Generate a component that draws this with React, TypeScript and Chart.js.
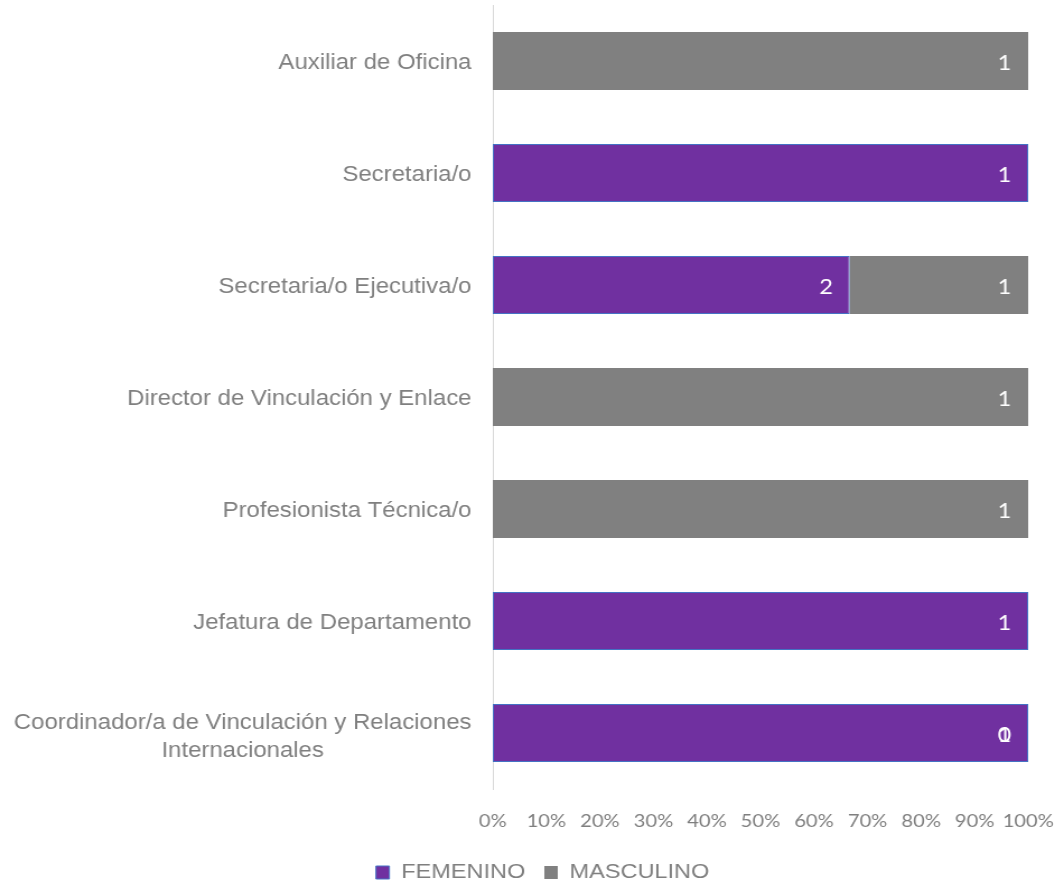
import React, { useEffect, useRef } from "react";
import { Chart, registerables } from "chart.js";

Chart.register(...registerables);

// ---- data ----
const categories: (string | string[])[] = [
  "Auxiliar de Oficina",
  "Secretaria/o",
  "Secretaria/o Ejecutiva/o",
  "Director de Vinculación y Enlace",
  "Profesionista Técnica/o",
  "Jefatura de Departamento",
  ["Coordinador/a de Vinculación y Relaciones", "Internacionales"],
];
const femenino: (number | null)[] = [null, 1, 2, null, null, 1, 1];
const masculino: (number | null)[] = [1, null, 1, 1, 1, null, 0];
const seriesNames = ["FEMENINO", "MASCULINO"];
const xTickValues = [0, 10, 20, 30, 40, 50, 60, 70, 80, 90, 100];

// ---- styling ----
const PURPLE = "#7030A0";
const BLUE = "#4472C4";
const GRAY = "#808080";
const TEXT = "#7f7f7f";
const SX = 1.12;
const W = 943;
const H = 893;

function share(a: number | null, b: number | null): number | null {
  if (a == null) return null;
  const total = (a ?? 0) + (b ?? 0);
  return total ? (a / total) * 100 : 0;
}

const femPct = femenino.map((v, i) => share(v, masculino[i]));
const mascPct = masculino.map((v, i) => share(v, femenino[i]));

const labelsPlugin = {
  id: "customLabels",
  afterDatasetsDraw(chart: any) {
    const ctx = chart.ctx as CanvasRenderingContext2D;
    ctx.save();
    // value labels inside end
    ctx.font = "21px Lato";
    ctx.fillStyle = "#ffffff";
    ctx.textAlign = "right";
    ctx.textBaseline = "middle";
    const counts = [femenino, masculino];
    chart.data.datasets.forEach((_ds: any, di: number) => {
      const meta = chart.getDatasetMeta(di);
      meta.data.forEach((el: any, i: number) => {
        const c = counts[di][i];
        if (c == null) return;
        ctx.fillText(String(c), el.x - 15, el.y + 2);
      });
    });
    // category labels
    const ys = chart.scales.y;
    ctx.font = '21.4px "Liberation Sans"';
    ctx.fillStyle = TEXT;
    const right = chart.chartArea.left - 19;
    categories.forEach((cat, i) => {
      const y = ys.getPixelForValue(i) + 2;
      const lines = Array.isArray(cat) ? cat : [cat];
      if (lines.length === 1) {
        ctx.textAlign = "right";
        ctx.fillText(lines[0], right, y);
      } else {
        const maxW = Math.max(...lines.map((l) => ctx.measureText(l).width));
        const cx = right - maxW / 2;
        ctx.textAlign = "center";
        const lh = 28;
        lines.forEach((l, k) => {
          ctx.fillText(l, cx, y + 2 + (k - (lines.length - 1) / 2) * lh);
        });
      }
    });
    ctx.restore();
  },
};

export default function App() {
  const ref = useRef<HTMLCanvasElement | null>(null);

  useEffect(() => {
    if (!ref.current) return;
    const chart = new Chart(ref.current, {
      type: "bar",
      data: {
        labels: categories as any,
        datasets: [
          {
            label: seriesNames[0],
            data: femPct as any,
            backgroundColor: PURPLE,
            borderColor: BLUE,
            borderWidth: 1,
            borderSkipped: false,
          },
          {
            label: seriesNames[1],
            data: mascPct as any,
            backgroundColor: GRAY,
            borderColor: GRAY,
            borderWidth: 0,
          },
        ],
      },
      options: {
        indexAxis: "y",
        responsive: false,
        animation: false,
        devicePixelRatio: 1,
        layout: { padding: { top: 5, left: 51, right: 25, bottom: 0 } },
        datasets: { bar: { barPercentage: 0.52, categoryPercentage: 1 } },
        scales: {
          x: {
            stacked: true,
            min: 0,
            max: 100,
            afterBuildTicks: (s: any) => {
              s.ticks = xTickValues.map((v) => ({ value: v }));
            },
            afterFit: (s: any) => {
              s.height = 56;
              s.paddingLeft = 0;
              s.paddingRight = 0;
            },
            grid: { display: false, drawTicks: false },
            border: { display: false },
            ticks: {
              padding: 21,
              color: TEXT,
              font: { family: "Lato", size: 18 },
              maxRotation: 0,
              autoSkip: false,
              callback: (v: any) => `${v}%`,
            },
          },
          y: {
            stacked: true,
            grid: { display: false, drawTicks: false },
            border: { display: true, color: "#d9d9d9", width: 1 },
            ticks: { display: false },
            afterFit: (s: any) => {
              s.width = 389;
            },
          },
        },
        plugins: {
          legend: {
            position: "bottom",
            labels: {
              boxWidth: 12,
              boxHeight: 13,
              padding: 17,
              color: TEXT,
              font: { family: "Liberation Sans", size: 21 },
            },
          },
          tooltip: { enabled: false },
        },
      },
      plugins: [labelsPlugin],
    } as any);
    return () => chart.destroy();
  }, []);

  return (
    <div
      style={{
        position: "absolute",
        left: 0,
        top: 0,
        width: 1056,
        height: 886,
        overflow: "hidden",
        background: "#ffffff",
      }}
    >
      <div
        style={{
          width: W,
          height: H,
          transform: `scaleX(${SX})`,
          transformOrigin: "0 0",
        }}
      >
        <canvas ref={ref} width={W} height={H} style={{ display: "block" }} />
      </div>
    </div>
  );
}
